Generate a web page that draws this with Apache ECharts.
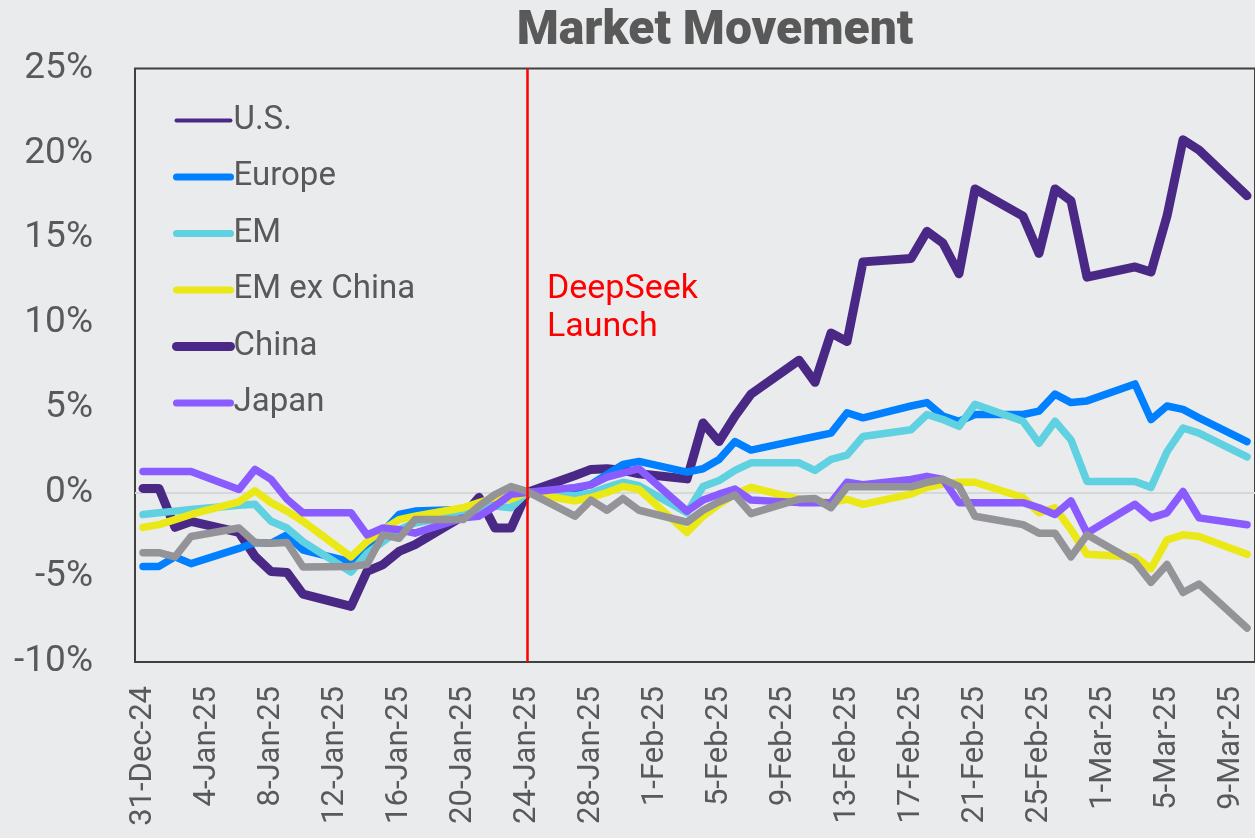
<!DOCTYPE html>
<html>
<head>
<meta charset="utf-8">
<title>Market Movement</title>
<script src="https://cdn.jsdelivr.net/npm/echarts@6/dist/echarts.min.js"></script>
<style>
  html, body { margin: 0; padding: 0; background: #eaebed; }
  #chart { width: 1255px; height: 838px; }
</style>
</head>
<body>
<div id="chart"></div>
<script>
// ---- calendar axis: every day 31-Dec-24 .. 10-Mar-25 ----
const MONTHS = [['Jan', 31], ['Feb', 28], ['Mar', 10]];
const categories = ['31-Dec-24'];
MONTHS.forEach(([m, n]) => { for (let d = 1; d <= n; d++) categories.push(`${d}-${m}-25`); });

// ---- trading days (weekends skipped, line runs straight across) ----
const tradeDays = [
  '31-Dec-24', '1-Jan-25', '2-Jan-25', '3-Jan-25', '6-Jan-25', '7-Jan-25', '8-Jan-25', '9-Jan-25', '10-Jan-25',
  '13-Jan-25', '14-Jan-25', '15-Jan-25', '16-Jan-25', '17-Jan-25', '20-Jan-25', '21-Jan-25', '22-Jan-25', '23-Jan-25',
  '24-Jan-25', '27-Jan-25', '28-Jan-25', '29-Jan-25', '30-Jan-25', '31-Jan-25',
  '3-Feb-25', '4-Feb-25', '5-Feb-25', '6-Feb-25', '7-Feb-25', '10-Feb-25', '11-Feb-25', '12-Feb-25', '13-Feb-25',
  '14-Feb-25', '17-Feb-25', '18-Feb-25', '19-Feb-25', '20-Feb-25', '21-Feb-25', '24-Feb-25', '25-Feb-25',
  '26-Feb-25', '27-Feb-25', '28-Feb-25',
  '3-Mar-25', '4-Mar-25', '5-Mar-25', '6-Mar-25', '7-Mar-25', '10-Mar-25',
];

// % move vs 24-Jan-25
const china = [
  0.24, 0.24, -2.06, -1.71, -2.36, -3.77, -4.66, -4.72, -6.0,
  -6.72, -4.66, -4.25, -3.48, -3.07, -1.4, -0.29, -2.1, -2.1,
  0, 1.0, 1.36, 1.4, 1.3, 1.1,
  0.8, 4.1, 3.0, 4.5, 5.8, 7.8, 6.5, 9.4, 8.9,
  13.6, 13.8, 15.4, 14.7, 12.9, 17.9, 16.3, 14.1,
  17.9, 17.2, 12.7,
  13.3, 13.0, 16.3, 20.8, 20.2, 17.5,
];
const europe = [
  -4.36, -4.36, -3.8, -4.2, -3.3, -2.95, -3.0, -2.5, -3.4,
  -4.1, -3.3, -2.3, -1.3, -1.1, -1.0, -0.8, -0.5, -0.3,
  0, 0.2, 0.47, 1.06, 1.65, 1.83,
  1.2, 1.4, 1.95, 3.0, 2.5, 3.1, 3.3, 3.5, 4.7,
  4.4, 5.1, 5.3, 4.5, 4.2, 4.6, 4.6, 4.8,
  5.8, 5.3, 5.4,
  6.4, 4.3, 5.1, 4.9, 4.4, 3.0,
];
const em = [
  -1.3, -1.2, -1.1, -1.0, -0.75, -0.7, -1.7, -2.1, -2.9,
  -4.7, -3.6, -2.9, -2.2, -1.8, -1.3, -1.0, -0.8, -0.9,
  0, -0.2, -0.05, 0.3, 0.6, 0.4,
  -1.2, 0.35, 0.7, 1.3, 1.75, 1.75, 1.3, 1.95, 2.2,
  3.3, 3.7, 4.6, 4.3, 3.9, 5.2, 4.2, 2.9,
  4.2, 3.1, 0.65,
  0.65, 0.3, 2.4, 3.8, 3.5, 2.1,
];
const emExChina = [
  -2.06, -1.9, -1.6, -1.3, -0.55, 0.1, -0.6, -1.1, -1.7,
  -3.8, -2.9, -2.2, -1.6, -1.4, -0.9, -0.6, -0.3, -0.4,
  0, -0.5, -0.3, 0.0, 0.35, 0.18,
  -2.36, -1.4, -0.7, -0.1, 0.3, -0.4, -0.5, -0.6, -0.4,
  -0.7, -0.1, 0.3, 0.5, 0.6, 0.6, -0.3, -1.2,
  -0.9, -2.2, -3.65,
  -3.8, -4.5, -2.8, -2.5, -2.6, -3.65,
];
const japan = [
  1.24, 1.24, 1.24, 1.24, 0.18, 1.36, 0.77, -0.4, -1.2,
  -1.2, -2.5, -2.1, -2.2, -2.4, -1.5, -1.4, -0.8, -0.1,
  0, 0.3, 0.45, 0.9, 1.15, 1.4,
  -1.1, -0.45, -0.1, 0.2, -0.45, -0.6, -0.6, -0.6, 0.6,
  0.45, 0.77, 0.95, 0.77, -0.6, -0.6, -0.6, -0.9,
  -1.3, -0.5, -2.4,
  -0.7, -1.5, -1.2, 0.06, -1.5, -1.9,
];
const us = [
  -3.55, -3.55, -3.8, -2.6, -2.1, -2.95, -3.0, -2.95, -4.4,
  -4.36, -4.25, -2.5, -2.7, -1.6, -1.6, -0.8, -0.12, 0.35,
  0.06, -1.4, -0.45, -1.05, -0.35, -1.05,
  -1.75, -1.05, -0.55, -0.15, -1.25, -0.4, -0.35, -0.9, 0.33,
  0.33, 0.33, 0.6, 0.77, 0.35, -1.4, -1.9, -2.4,
  -2.4, -3.8, -2.5,
  -4.1, -5.3, -4.25, -5.9, -5.4, -8.0,
];

const LAUNCH_DAY = '24-Jan-25';
const yTicks = { min: -10, max: 25, step: 5 };

const TXT = '#595959';
const FONT = 'Roboto, "Liberation Sans", sans-serif';

const seriesDefs = [
  { name: 'China', values: china, color: '#4a2886', width: 9 },
  { name: 'Europe', values: europe, color: '#0080ff', width: 7.5 },
  { name: 'EM', values: em, color: '#5fd1e0', width: 7.5 },
  { name: 'EM ex China', values: emExChina, color: '#ebe817', width: 7.5 },
  { name: 'Japan', values: japan, color: '#8a5cff', width: 7.5 },
  { name: 'U.S.', values: us, color: '#939398', width: 7.5 },
];

// legend keeps the reference's own swatches
const legendItems = [
  { name: 'U.S.', color: '#4a2886', width: 4 },
  { name: 'Europe', color: '#0080ff', width: 7 },
  { name: 'EM', color: '#5fd1e0', width: 7 },
  { name: 'EM ex China', color: '#ebe817', width: 7 },
  { name: 'China', color: '#4a2886', width: 9 },
  { name: 'Japan', color: '#8a5cff', width: 7 },
];

const series = seriesDefs.map((s) => ({
  name: s.name,
  type: 'line',
  symbol: 'none',
  data: tradeDays.map((d, i) => [d, s.values[i]]),
  lineStyle: { color: s.color, width: s.width, cap: 'round', join: 'round' },
  itemStyle: { color: s.color },
  emphasis: { disabled: true },
}));

// launch marker on the top series
series[series.length - 1].markLine = {
  silent: true,
  symbol: 'none',
  label: { show: false },
  lineStyle: { color: '#ff0000', width: 2.5, type: 'solid' },
  data: [{ xAxis: LAUNCH_DAY }],
};
series[series.length - 1].markPoint = {
  silent: true,
  symbol: 'circle',
  symbolSize: 0,
  itemStyle: { color: 'transparent' },
  label: {
    show: true, position: 'right', distance: 20,
    formatter: 'DeepSeek\nLaunch', color: '#ff0000',
    fontFamily: FONT, fontSize: 34, lineHeight: 38, align: 'left',
  },
  data: [{ coord: [LAUNCH_DAY, 10.85] }],
};

const chart = echarts.init(document.getElementById('chart'), null, { renderer: 'canvas' });
chart.setOption({
  backgroundColor: '#eaebed',
  animation: false,
  title: {
    text: 'Market Movement',
    left: 710, top: 3, textAlign: 'center',
    textStyle: { color: TXT, fontFamily: FONT, fontSize: 48, fontWeight: 900 },
  },
  legend: {
    orient: 'vertical', left: 172, top: 104, padding: 0,
    itemWidth: 54, itemHeight: 14, itemGap: 23.5,
    selectedMode: false,
    textStyle: { color: TXT, fontFamily: FONT, fontSize: 33, padding: [0, 0, 0, -2] },
    data: legendItems.map((l) => ({
      name: l.name,
      itemStyle: { color: l.color, opacity: 0 },
      lineStyle: { color: l.color, width: l.width, cap: 'round' },
    })),
  },
  grid: {
    left: 135, top: 68.6, bottom: 176, right: -2,
    show: true, borderColor: '#404040', borderWidth: 2, backgroundColor: 'transparent',
  },
  xAxis: {
    type: 'category',
    data: categories,
    boundaryGap: true,
    axisLine: { show: false },
    axisTick: { show: false },
    axisLabel: {
      interval: 3, rotate: 90, margin: 24,
      color: TXT, fontFamily: FONT, fontSize: 31,
    },
    splitLine: { show: false },
  },
  yAxis: {
    type: 'value',
    min: yTicks.min, max: yTicks.max, interval: yTicks.step,
    axisLine: { show: false },
    axisTick: { show: false },
    axisLabel: { formatter: '{value}%', margin: 42, color: TXT, fontFamily: FONT, fontSize: 37 },
    // only the 0% line is drawn
    splitLine: {
      show: true,
      lineStyle: {
        width: 2,
        color: ['transparent', 'transparent', '#d6d7d9', 'transparent', 'transparent', 'transparent', 'transparent', 'transparent'],
      },
    },
  },
  series,
});
</script>
</body>
</html>
